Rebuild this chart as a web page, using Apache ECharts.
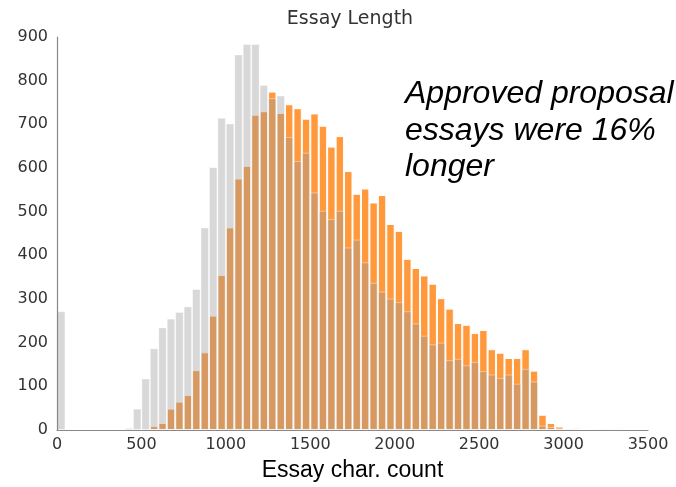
<!DOCTYPE html>
<html>
<head>
<meta charset="utf-8">
<script src="https://cdn.jsdelivr.net/npm/echarts@6/dist/echarts.min.js"></script>
<style>
html,body{margin:0;padding:0;background:#fff;}
#chart{width:676px;height:487px;}
</style>
</head>
<body>
<div id="chart"></div>
<script>
// Histogram bins: 50 characters wide, starting at 0
const BIN_WIDTH = 50;
const binStarts = [
  0,50,100,150,200,250,300,350,400,450,
  500,550,600,650,700,750,800,850,900,950,
  1000,1050,1100,1150,1200,1250,1300,1350,1400,1450,
  1500,1550,1600,1650,1700,1750,1800,1850,1900,1950,
  2000,2050,2100,2150,2200,2250,2300,2350,2400,2450,
  2500,2550,2600,2650,2700,2750,2800,2850,2900,2950,
  3000,3050,3100,3150,3200,3250,3300,3350,3400,3450
];
// Approved proposals (orange)
const approvedCounts = [
  0,0,0,0,0,0,0,0,0,0,
  0,9,16,49,65,80,137,178,262,355,
  464,576,605,722,730,775,726,746,737,713,
  725,697,649,673,593,541,553,521,538,472,
  456,392,371,354,335,302,278,245,241,222,
  229,185,177,165,165,185,136,35,16,8,
  2,5,1,1,1,1,4,0,0,0
];
// Rejected proposals (grey, drawn semi-transparent on top)
const rejectedCounts = [
  272,2,2,1,1,1,1,2,5,49,
  118,187,235,255,270,283,323,464,602,715,
  702,860,884,884,790,760,766,671,616,635,
  544,502,483,502,418,436,384,337,317,301,
  293,272,244,216,196,200,160,163,148,156,
  135,127,119,127,106,140,111,10,7,4,
  3,1,0,1,3,0,1,0,0,0
];
const xTicks = [0,500,1000,1500,2000,2500,3000,3500];
const yTicks = [0,100,200,300,400,500,600,700,800,900];
const titleText = 'Essay Length';
const xTitle = 'Essay char. count';
const noteLines = ['Approved proposal', 'essays were 16%', 'longer'];

function toSeries(counts){
  return binStarts.map((s,i)=> counts[i] > 0 ? [s + BIN_WIDTH/2, counts[i]] : [s + BIN_WIDTH/2, '-']);
}

const chart = echarts.init(document.getElementById('chart'), null, {renderer:'canvas'});
const gridLeft = 57, gridRight = 28, gridTop = 37, gridBottom = 55;
const plotW = 676 - gridLeft - gridRight;
const barPx = plotW / ((xTicks[xTicks.length-1] - xTicks[0]) / BIN_WIDTH);

const tickFont = 'DejaVu Sans';
const option = {
  animation:false,
  backgroundColor:'#fff',
  grid:{left:gridLeft,right:gridRight,top:gridTop,bottom:gridBottom},
  xAxis:{
    type:'value',min:xTicks[0],max:xTicks[xTicks.length-1],interval:500,
    z:10,
    splitLine:{show:false},
    axisTick:{show:false},
    axisLine:{show:true,lineStyle:{color:'#888',width:1.2}},
    axisLabel:{color:'#333',fontFamily:tickFont,fontSize:16,margin:7,
      formatter:function(v){return String(v);},
      showMinLabel:true,showMaxLabel:true},
    name:xTitle,nameLocation:'middle',nameGap:29,
    nameTextStyle:{color:'#000',fontFamily:'Liberation Sans',fontSize:23}
  },
  yAxis:{
    type:'value',min:yTicks[0],max:yTicks[yTicks.length-1],interval:100,
    z:10,
    splitLine:{show:false},
    axisTick:{show:false},
    axisLine:{show:true,lineStyle:{color:'#888',width:1.2}},
    axisLabel:{color:'#333',fontFamily:tickFont,fontSize:16,margin:9,
      formatter:function(v){return String(v);}}
  },
  series:[
    {
      name:'Approved',type:'bar',data:toSeries(approvedCounts),
      barWidth:barPx,barGap:'-100%',
      itemStyle:{color:'#ff993c',borderColor:'#fff',borderWidth:1}
    },
    {
      name:'Rejected',type:'bar',data:toSeries(rejectedCounts),
      barWidth:barPx,barGap:'-100%',
      itemStyle:{color:'rgb(155,155,155)',opacity:0.39,borderColor:'#fff',borderWidth:1}
    }
  ],
  graphic:[
    {type:'text',x:350,y:19,style:{text:titleText,fill:'#333',
      font:'19px "DejaVu Sans"',align:'center',verticalAlign:'middle'}},
    {type:'text',x:405,y:94,style:{text:noteLines[0],fill:'#000',
      font:'italic 32px "Liberation Sans"',align:'left',verticalAlign:'middle'}},
    {type:'text',x:405,y:131,style:{text:noteLines[1],fill:'#000',
      font:'italic 32px "Liberation Sans"',align:'left',verticalAlign:'middle'}},
    {type:'text',x:405,y:167,style:{text:noteLines[2],fill:'#000',
      font:'italic 32px "Liberation Sans"',align:'left',verticalAlign:'middle'}}
  ]
};
chart.setOption(option);
</script>
</body>
</html>
